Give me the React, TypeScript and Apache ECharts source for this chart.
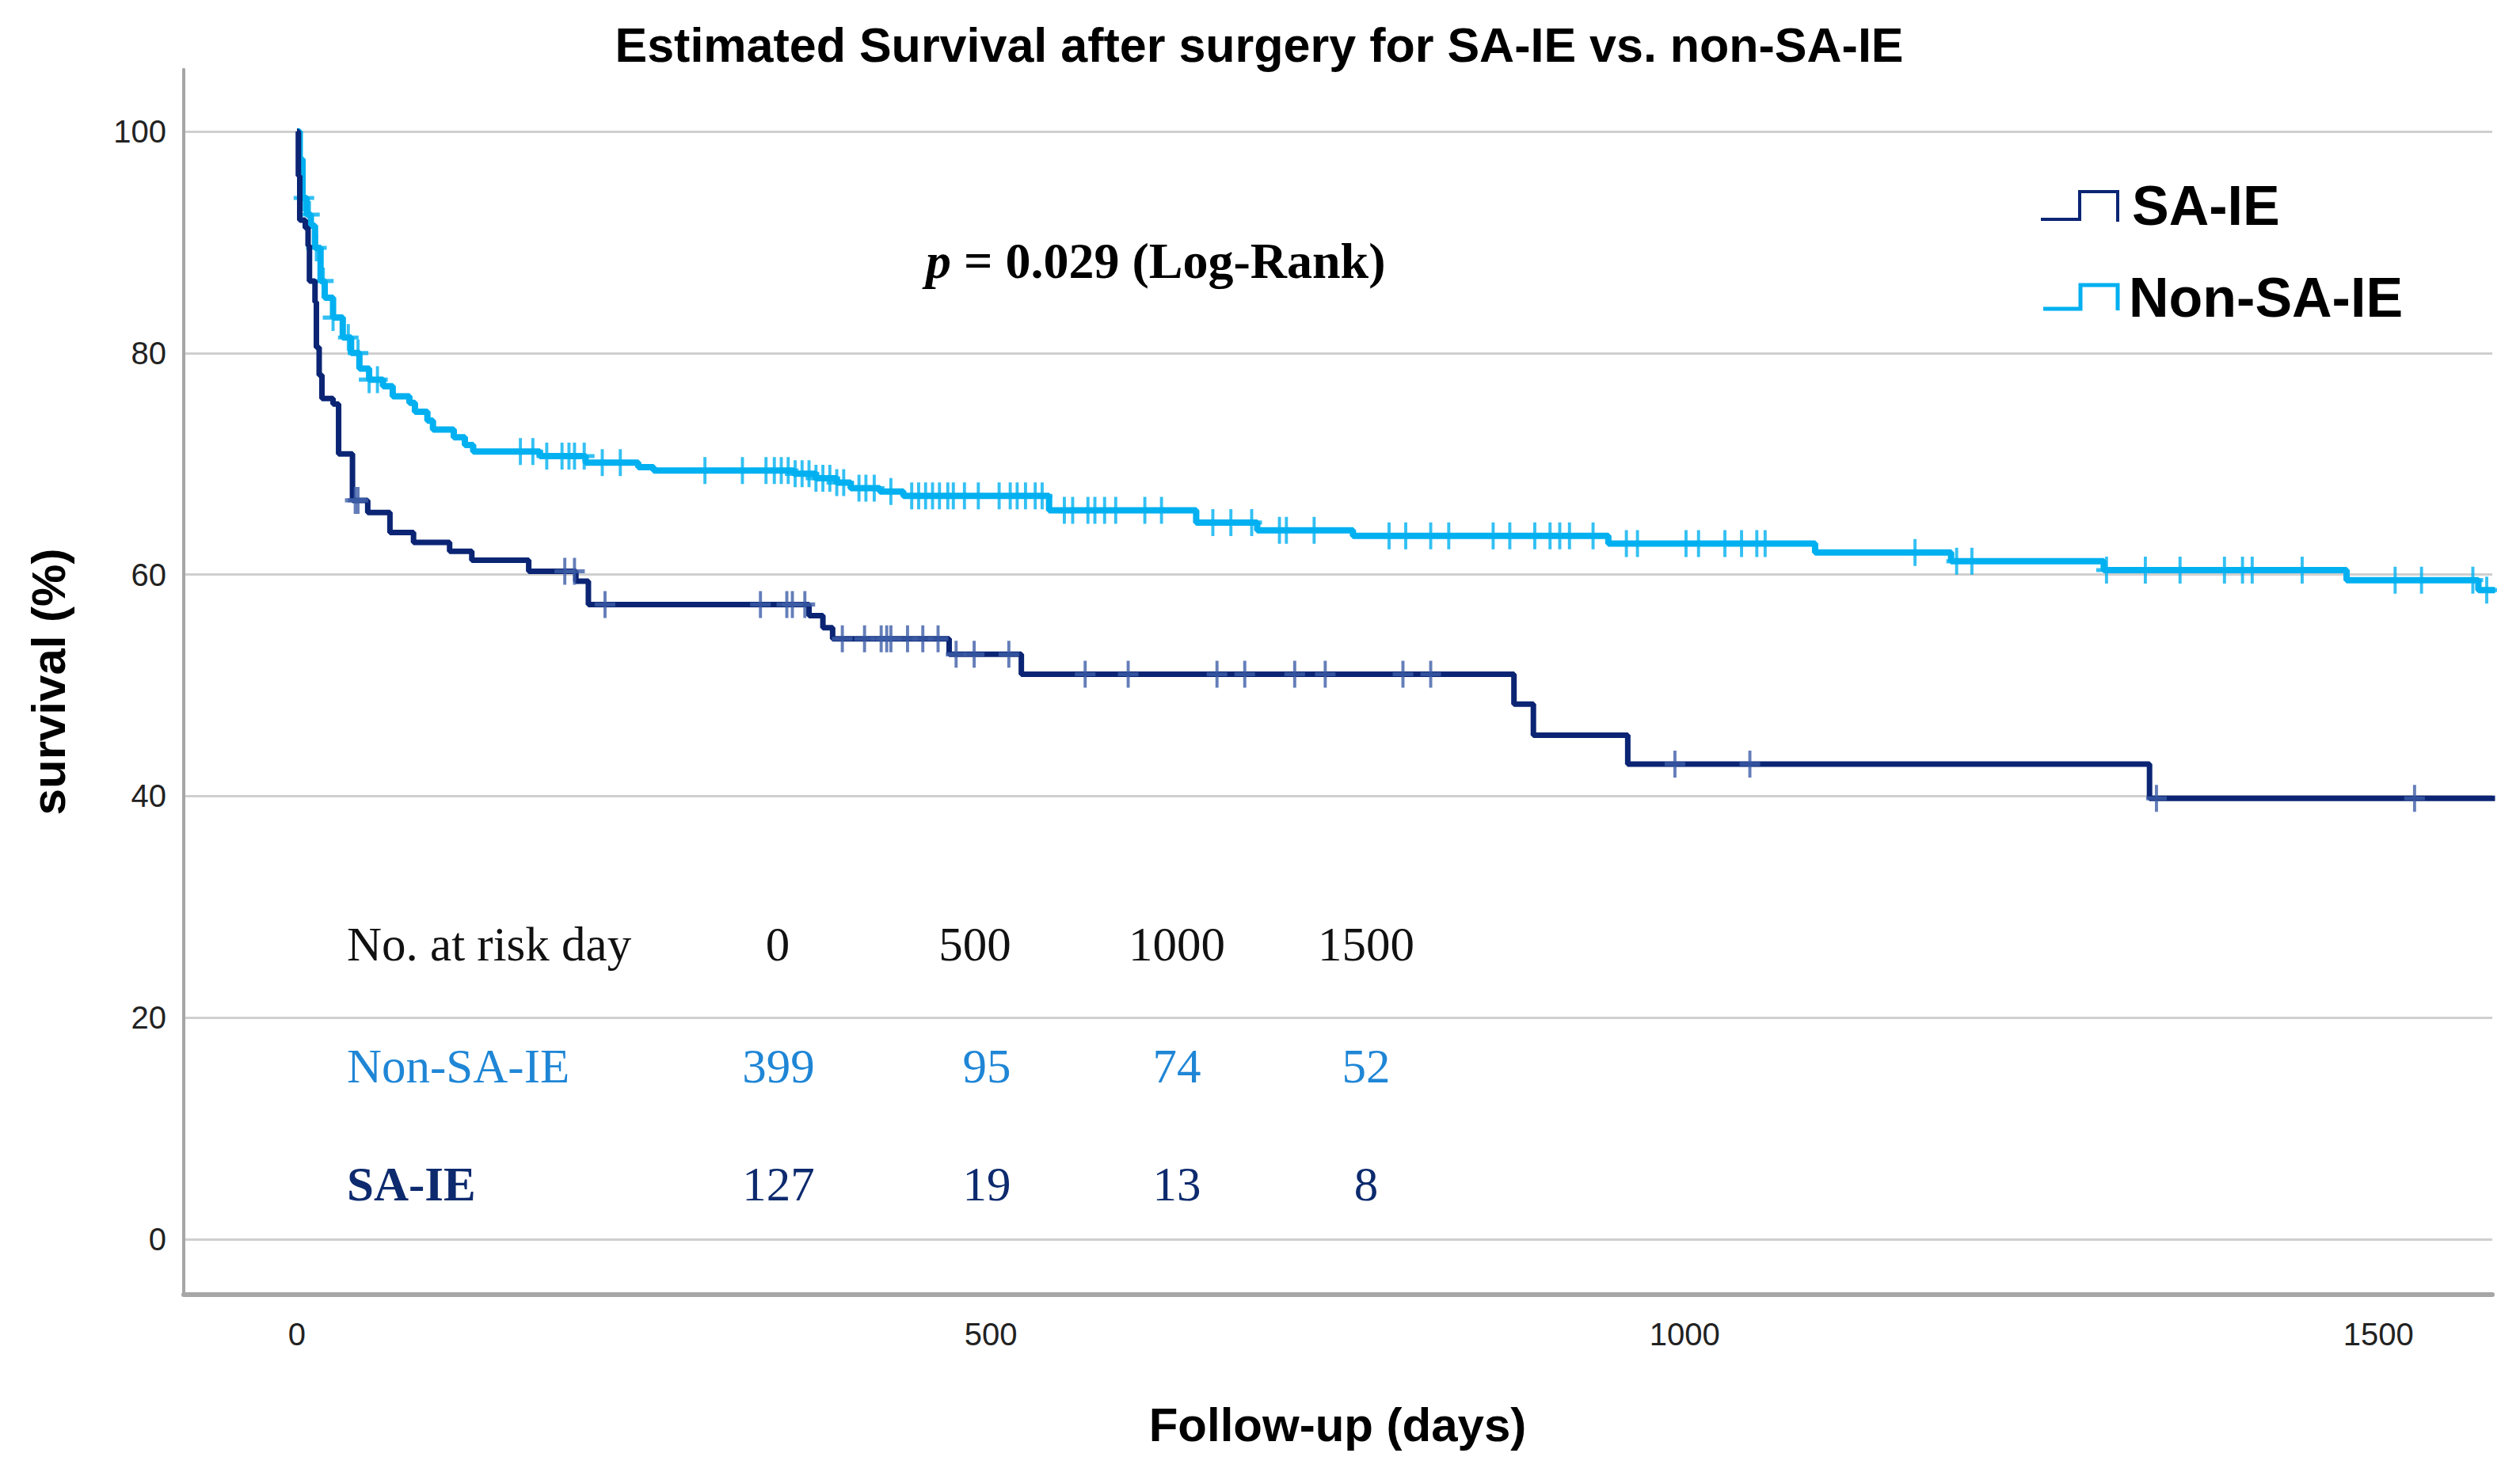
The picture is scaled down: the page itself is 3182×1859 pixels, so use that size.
import React, { useEffect, useRef } from "react";
import * as echarts from "echarts";

// ---------- data ----------
const xTickValues = [0, 500, 1000, 1500];
const yTickValues = [0, 20, 40, 60, 80, 100];

// Kaplan-Meier steps (day, survival %) – Non-SA-IE
const nonSaTimes = [0, 2, 4, 7, 10, 13, 17, 20, 26, 33, 39, 45, 52, 62, 69, 81, 85, 94, 98, 113, 121, 127, 175, 208, 246, 257, 358, 374, 389, 399, 420, 437, 542, 648, 692, 761, 945, 1094, 1192, 1302, 1477, 1572, 1584];
const nonSaSurv = [100, 97.5, 94, 92.5, 91.5, 89.5, 86.5, 85, 83.2, 81.4, 80, 78.6, 77.6, 77, 76.1, 75.5, 74.7, 73.9, 73.1, 72.4, 71.7, 71.1, 70.7, 70.1, 69.7, 69.4, 69.1, 68.7, 68.3, 67.8, 67.5, 67.1, 65.8, 64.7, 64.0, 63.5, 62.8, 62.0, 61.2, 60.4, 59.5, 58.6, 58.6];

// Kaplan-Meier steps – SA-IE
const saTimes = [0, 1, 2, 6, 8, 9, 13, 14, 16, 18, 26, 30, 40, 51, 67, 84, 110, 126, 167, 201, 210, 369, 379, 386, 470, 522, 877, 891, 959, 1335, 1584];
const saSurv = [100, 96, 92, 91.3, 89.7, 86.5, 84.6, 80.5, 78, 75.9, 75.4, 70.9, 66.7, 65.6, 63.8, 62.9, 62.1, 61.3, 60.3, 59.4, 57.3, 56.3, 55.2, 54.2, 52.8, 51.0, 48.3, 45.5, 42.9, 39.8, 39.8];

// censored observations (day)
const nonSaCensored = [5, 9, 14, 19, 26, 37, 44, 52, 58, 161, 170, 180, 191, 196, 200, 207, 220, 233, 294, 321, 338, 344, 349, 354, 359, 364, 369, 374, 379, 384, 389, 394, 405, 410, 416, 428, 443, 448, 453, 458, 463, 469, 473, 481, 491, 506, 514, 519, 525, 532, 537, 553, 559, 570, 575, 582, 590, 611, 623, 660, 673, 688, 708, 713, 733, 787, 799, 817, 830, 862, 874, 892, 903, 910, 917, 934, 958, 966, 1001, 1010, 1029, 1041, 1052, 1058, 1166, 1196, 1207, 1304, 1332, 1357, 1389, 1402, 1409, 1445, 1512, 1531, 1568, 1578];
const saCensored = [42, 44, 193, 200, 222, 334, 353, 357, 366, 393, 409, 421, 425, 428, 440, 451, 462, 475, 488, 513, 568, 599, 663, 683, 719, 741, 797, 817, 993, 1047, 1340, 1526];

// number at risk table
const riskHeader = "No. at risk day";
const riskDays = ["0", "500", "1000", "1500"];
const riskNonSa = ["399", "95", "74", "52"];
const riskSa = ["127", "19", "13", "8"];

const titleText = "Estimated Survival after surgery for SA-IE vs. non-SA-IE";
const xName = "Follow-up (days)";
const yName = "survival (%)";
const seriesNames = ["SA-IE", "Non-SA-IE"];

// ---------- styling ----------
const SANS = "'Liberation Sans', Arial, sans-serif";
const SERIF = "'Liberation Serif', 'Times New Roman', serif";
const DARK = "#0b2574";
const DARK_CENSOR = "#3d5ea8";
const LIGHT = "#00b0f0";
const RISK_LIGHT = "#1f86d6";
const RISK_DARK = "#0d2a6e";

const PLUS = "path://M8.5,0 H11.5 V8.5 H20 V11.5 H11.5 V20 H8.5 V11.5 H0 V8.5 H8.5 Z";

function survAt(times: number[], surv: number[], t: number) {
  let v = surv[0];
  for (let i = 0; i < times.length; i++) {
    if (times[i] <= t) v = surv[i];
    else break;
  }
  return v;
}

export default function App() {
  const ref = useRef<HTMLDivElement>(null);

  useEffect(() => {
    if (!ref.current) return;
    const chart = echarts.init(ref.current, undefined, { renderer: "svg" });

    const nonSaLine = nonSaTimes.map((t, i) => [t, nonSaSurv[i]]);
    const saLine = saTimes.map((t, i) => [t, saSurv[i]]);
    const nonSaCens = nonSaCensored.map((t) => [t, survAt(nonSaTimes, nonSaSurv, t)]);
    const saCens = saCensored.map((t) => [t, survAt(saTimes, saSurv, t)]);

    const headX = [982, 1231, 1486, 1725];
    const numX = [983, 1246, 1486, 1725];
    const rowY = [1192, 1346, 1495];
    const RF = 61;
    const riskGraphics: any[] = [];
    riskGraphics.push({
      type: "text", x: 438, y: rowY[0],
      style: { text: riskHeader, font: `${RF}px ${SERIF}`, fill: "#111", align: "left", verticalAlign: "middle" },
    });
    riskGraphics.push({
      type: "text", x: 438, y: rowY[1],
      style: { text: seriesNames[1], font: `${RF}px ${SERIF}`, fill: RISK_LIGHT, align: "left", verticalAlign: "middle" },
    });
    riskGraphics.push({
      type: "text", x: 438, y: rowY[2],
      style: { text: seriesNames[0], font: `bold ${RF}px ${SERIF}`, fill: RISK_DARK, align: "left", verticalAlign: "middle" },
    });
    riskDays.forEach((d, i) => {
      riskGraphics.push({
        type: "text", x: headX[i], y: rowY[0],
        style: { text: d, font: `${RF}px ${SERIF}`, fill: "#111", align: "center", verticalAlign: "middle" },
      });
      riskGraphics.push({
        type: "text", x: numX[i], y: rowY[1],
        style: { text: riskNonSa[i], font: `${RF}px ${SERIF}`, fill: RISK_LIGHT, align: "center", verticalAlign: "middle" },
      });
      riskGraphics.push({
        type: "text", x: numX[i], y: rowY[2],
        style: { text: riskSa[i], font: `${RF}px ${SERIF}`, fill: RISK_DARK, align: "center", verticalAlign: "middle" },
      });
    });

    chart.setOption({
      animation: false,
      backgroundColor: "#ffffff",
      grid: { left: 232, right: 35, top: 87.7, bottom: 224, containLabel: false, outerBoundsMode: "none" },
      xAxis: {
        type: "value",
        min: -81.6,
        max: 1582,
        axisLine: { show: true, onZero: false, lineStyle: { color: "#a6a6a6", width: 6 } },
        axisTick: { show: false, customValues: xTickValues },
        axisLabel: {
          customValues: xTickValues, margin: 30, fontFamily: SANS, fontSize: 40, color: "#222",
          formatter: (v: number) => String(v),
        },
        splitLine: { show: false },
      },
      yAxis: {
        type: "value",
        min: -5,
        max: 105.6,
        axisLine: { show: true, onZero: false, lineStyle: { color: "#a6a6a6", width: 4 } },
        axisTick: { show: false, customValues: yTickValues },
        axisLabel: {
          customValues: yTickValues, margin: 22, fontFamily: SANS, fontSize: 40, color: "#222",
          formatter: (v: number) => String(v),
        },
        splitLine: { show: true, lineStyle: { color: "#cfcfcf", width: 3 } },
      },
      series: [
        {
          name: seriesNames[1], type: "line", step: "end", data: nonSaLine,
          symbol: "none", lineStyle: { color: LIGHT, width: 8 }, z: 2,
        },
        {
          name: seriesNames[1] + " censored", type: "scatter", data: nonSaCens,
          symbol: PLUS, symbolSize: [26, 34], itemStyle: { color: LIGHT }, z: 3,
        },
        {
          name: seriesNames[0], type: "line", step: "end", data: saLine,
          symbol: "none", lineStyle: { color: DARK, width: 7 }, z: 4,
        },
        {
          name: seriesNames[0] + " censored", type: "scatter", data: saCens,
          symbol: PLUS, symbolSize: [26, 34], itemStyle: { color: DARK_CENSOR }, z: 5,
        },
      ],
      graphic: [
        {
          type: "text", x: 1590, y: 57,
          style: { text: titleText, font: `bold 61px ${SANS}`, fill: "#000", align: "center", verticalAlign: "middle" },
        },
        {
          type: "text", x: 1689, y: 1799,
          style: { text: xName, font: `bold 60px ${SANS}`, fill: "#000", align: "center", verticalAlign: "middle" },
        },
        {
          type: "text", x: 61, y: 861, rotation: Math.PI / 2,
          style: { text: yName, font: `bold 60px ${SANS}`, fill: "#000", align: "center", verticalAlign: "middle" },
        },
        {
          type: "text", x: 1169, y: 329,
          style: {
            text: "{i|p}{n| = 0.029 (Log-Rank)}",
            align: "left", verticalAlign: "middle",
            rich: {
              i: { fontFamily: SERIF, fontStyle: "italic", fontWeight: "bold", fontSize: 64, fill: "#000" },
              n: { fontFamily: SERIF, fontWeight: "bold", fontSize: 64, fill: "#000" },
            },
          },
        },
        // legend
        {
          type: "polyline",
          shape: { points: [[2577, 277], [2626, 277], [2626, 242], [2674, 242], [2674, 280]] },
          style: { stroke: DARK, lineWidth: 4, fill: null },
        },
        {
          type: "text", x: 2692, y: 260,
          style: { text: seriesNames[0], font: `bold 70px ${SANS}`, fill: "#000", align: "left", verticalAlign: "middle" },
        },
        {
          type: "polyline",
          shape: { points: [[2580, 390], [2627, 390], [2627, 360], [2674, 360], [2674, 392]] },
          style: { stroke: LIGHT, lineWidth: 5, fill: null },
        },
        {
          type: "text", x: 2688, y: 376,
          style: { text: seriesNames[1], font: `bold 70px ${SANS}`, fill: "#000", align: "left", verticalAlign: "middle" },
        },
        ...riskGraphics,
      ],
    });

    return () => chart.dispose();
  }, []);

  return (
    <div
      ref={ref}
      style={{ position: "fixed", left: 0, top: 0, width: 3182, height: 1859, background: "#fff" }}
    />
  );
}
